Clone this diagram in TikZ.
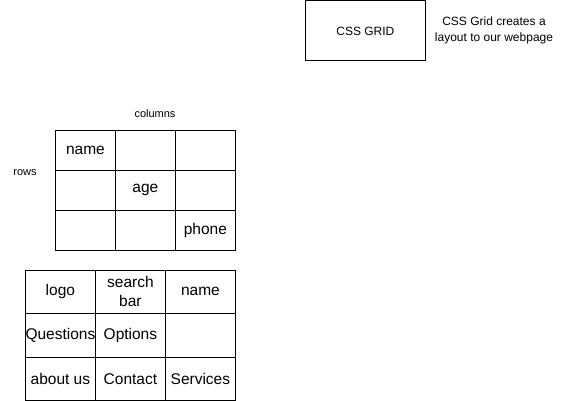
\documentclass[tikz,border=0pt]{standalone}
\usepackage{fontspec}
\setmainfont{Liberation Sans}
\begin{document}
\begin{tikzpicture}[x=1pt,y=-1pt,
  cell/.style={draw=black,line width=0.8pt,minimum width=60pt,minimum height=40pt,inner sep=0pt,anchor=north west,font=\fontsize{15.5}{19}\selectfont,align=center},
  wcell/.style={draw=black,line width=0.8pt,minimum width=70pt,inner sep=0pt,anchor=north west,font=\fontsize{15.5}{19}\selectfont,align=center},
  lbl/.style={font=\fontsize{11}{13}\selectfont,inner sep=0pt},
  note/.style={font=\fontsize{12}{16}\selectfont,align=center,inner sep=0pt}]
\useasboundingbox (0,0) rectangle (565,401);
% CSS GRID box
\node[draw=black,line width=0.8pt,minimum width=120pt,minimum height=60pt,inner sep=0pt,anchor=north west,font=\fontsize{12}{14}\selectfont] (css) at (305,0.5) {CSS GRID};
\node[note] (desc) at (494,30) {CSS Grid creates a\\layout to our webpage};
% labels
\node[lbl] (cols) at (155,114) {columns};
\node[lbl] (rows) at (25,173) {rows};
% grid 1
\node[cell] (a11) at (55,130) {name};
\node[cell] (a12) at (115,130) {};
\node[cell] (a13) at (175,130) {};
\node[cell] (a21) at (55,170) {};
\node[cell] (a22) at (115,170) {age};
\node[cell] (a23) at (175,170) {};
\node[cell] (a31) at (55,210) {};
\node[cell] (a32) at (115,210) {};
\node[cell] (a33) at (175,210) {phone};
% grid 2
\node[wcell,minimum height=43pt] (b11) at (25,270) {logo};
\node[wcell,minimum height=43pt] (b12) at (95,270) {search\\bar};
\node[wcell,minimum height=43pt] (b13) at (165,270) {name};
\node[wcell,minimum height=44pt] (b21) at (25,313) {Questions};
\node[wcell,minimum height=44pt] (b22) at (95,313) {Options};
\node[wcell,minimum height=44pt] (b23) at (165,313) {};
\node[wcell,minimum height=43pt] (b31) at (25,357) {about us};
\node[wcell,minimum height=43pt] (b32) at (95,357) {Contact};
\node[wcell,minimum height=43pt] (b33) at (165,357) {Services};
\end{tikzpicture}
\end{document}
